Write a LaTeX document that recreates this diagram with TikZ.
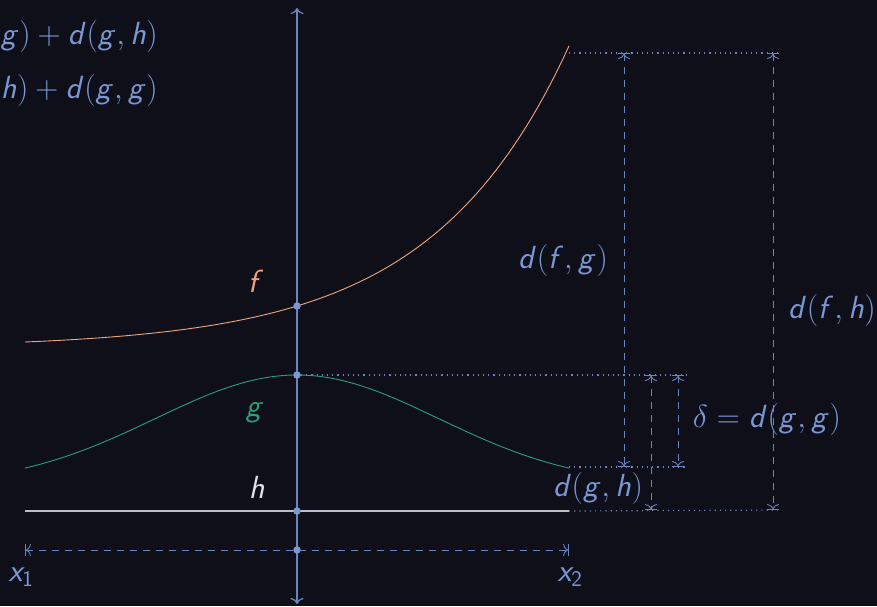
\RequirePackage{fix-cm}
\documentclass[tikz,border=0pt]{standalone}
\usetikzlibrary{arrows.meta}
\DeclareMathAlphabet{\mathsfit}{OT1}{cmss}{m}{sl}
\DeclareMathAlphabet{\mathsfup}{OT1}{cmss}{m}{n}
\newcommand\sv[1]{\mathsfit{#1}}
\definecolor{bgc}{RGB}{15,15,26}
\definecolor{axc}{RGB}{105,132,192}
\definecolor{txc}{RGB}{122,152,212}
\definecolor{fc}{RGB}{240,165,125}
\definecolor{gc}{RGB}{40,160,120}
\definecolor{hc}{RGB}{190,190,200}
\definecolor{hl}{RGB}{225,225,230}
\tikzset{
  tipto/.tip={To[length=5pt,width=12pt]},
  tipbar/.tip={Bar[width=12pt]},
  dimline/.style={axc, line width=0.9pt, dash pattern=on 7pt off 6pt,
     {tipbar[]tipto[]}-{tipto[]tipbar[]}},
  dotline/.style={axc, line width=1.2pt, dash pattern=on 1.2pt off 4pt},
  dot/.style={circle, fill=txc, inner sep=0pt, minimum size=7.5pt},
  lbl/.style={text=txc, inner sep=0pt},
}
\begin{document}
\begin{tikzpicture}[x=1pt,y=-1pt, font=\fontsize{32}{38}\selectfont]
\fill[bgc] (0,0) rectangle (877,606);
\useasboundingbox (0,0) rectangle (877,606);
% axis
\coordinate (atop) at (297,8);
\coordinate (abot) at (297,604);
\draw[axc, line width=1.3pt, {To[length=6pt,width=13pt]}-{To[length=6pt,width=13pt]}] (abot) -- (atop);
% curves
\draw[fc, line width=0.9pt] plot[domain=25:569, samples=90]
  (\x, {342 - 5.79*(exp(3.954*(\x-25)/544)-1)});
\draw[gc, line width=0.9pt] plot[domain=25:569, samples=90]
  (\x, {375 + 110.5*(1-exp(-((\x-297)/200)^2))});
\coordinate (h1) at (25,511);
\coordinate (h2) at (569,511);
\draw[hc, line width=1.2pt] (h1) -- (h2);
% dots
\node[dot] (pf) at (297,306) {};
\node[dot] (pg) at (297,375) {};
\node[dot] (ph) at (297,511) {};
\node[dot] (px) at (297,550) {};
% x range
\coordinate (x1) at (25,550);
\coordinate (x2) at (569,550);
\draw[dimline] (x1) -- (x2);
% dotted guides
\coordinate (fe) at (569,53);
\coordinate (ge) at (569,467);
\coordinate (fr) at (782,53);
\coordinate (gr) at (686,375);
\coordinate (ger) at (686,467);
\coordinate (hr) at (782,510);
\draw[dotline] (fe) -- (fr);
\draw[dotline] (pg) -- (gr);
\draw[dotline] (ge) -- (ger);
\draw[dotline] (h2) -- (hr);
% dimension arrows
\coordinate (a1t) at (624,53);  \coordinate (a1b) at (624,467);
\coordinate (a2t) at (773,53);  \coordinate (a2b) at (773,510);
\coordinate (a3t) at (651,375); \coordinate (a3b) at (651,510);
\coordinate (a4t) at (678,375); \coordinate (a4b) at (678,467);
\draw[dimline] (a1t) -- (a1b);
\draw[dimline] (a2t) -- (a2b);
\draw[dimline] (a3t) -- (a3b);
\draw[dimline] (a4t) -- (a4b);
% labels
\node[lbl] (ldfg) at (563,260) {$\sv{d}(\sv{f},\sv{g})$};
\node[lbl] (ldfh) at (832,310) {$\sv{d}(\sv{f},\sv{h})$};
\node[lbl] (ldgh) at (598,488) {$\sv{d}(\sv{g},\sv{h})$};
\node[lbl] (ldel) at (767,419) {$\delta=\sv{d}(\sv{g},\sv{g})$};
\node[inner sep=0pt, text=fc] (lf) at (256,281) {$\sv{f}$};
\node[inner sep=0pt, text=gc] (lg) at (255,413) {$\sv{g}$};
\node[inner sep=0pt, text=hl] (lh) at (257,487) {$\sv{h}$};
\node[lbl] (lx1) at (21,577) {$\sv{x}_{\mathsfup{1}}$};
\node[lbl] (lx2) at (570,577) {$\sv{x}_{\mathsfup{2}}$};
\node[lbl, anchor=east] (t1) at (158,36) {$\sv{g})+\sv{d}(\sv{g},\sv{h})$};
\node[lbl, anchor=east] (t2) at (158,90) {$\sv{h})+\sv{d}(\sv{g},\sv{g})$};
\end{tikzpicture}
\end{document}
